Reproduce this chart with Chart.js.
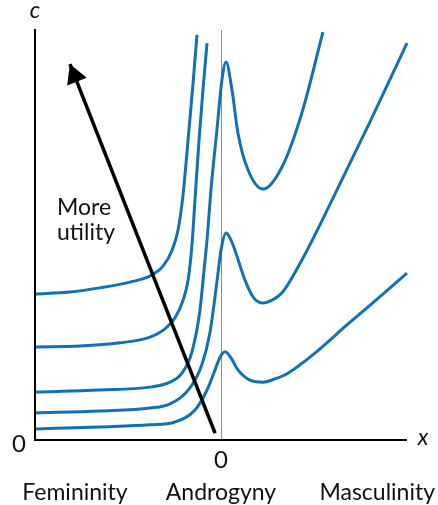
<!DOCTYPE html>
<html>
<head>
<meta charset="utf-8">
<script src="https://cdn.jsdelivr.net/npm/chart.js@4.4.1/dist/chart.umd.min.js"></script>
<style>
  html, body { margin:0; padding:0; background:#fff; }
  #wrap { width:438px; height:505px; position:relative; }
</style>
</head>
<body>
<div id="wrap"><canvas id="chart"></canvas></div>
<script>
// indifference curves, [x, c] (x: -10..10, c: 0..10)
const curveA = [[-10,3.56],[-8.12,3.61],[-6.51,3.71],[-4.89,3.85],[-3.82,4.0],[-3.12,4.24],[-2.63,4.63],
                [-2.31,5.12],[-2.04,5.98],[-1.77,7.32],[-1.51,8.66],[-1.29,9.88]];
const curveB = [[-10,2.27],[-7.58,2.29],[-5.43,2.37],[-3.82,2.51],[-3.01,2.71],[-2.47,2.98],[-2.04,3.41],
                [-1.77,3.9],[-1.56,4.76],[-1.4,5.85],[-1.18,7.32],[-0.97,8.54],[-0.75,9.68]];
const curveC = [[-10,1.17],[-6.51,1.22],[-3.82,1.29],[-2.74,1.41],[-2.1,1.63],[-1.56,2.15],[-1.13,3.17],
                [-0.91,4.15],[-0.75,4.88],[-0.54,6.1],[-0.22,7.56],[0.05,8.78],[0.27,9.22],[0.59,8.54],
                [0.91,7.49],[1.45,6.59],[2.26,6.12],[3.28,6.66],[4.35,7.98],[5.48,9.95]];
const curveD = [[-10,0.66],[-6.51,0.71],[-3.82,0.78],[-2.74,0.88],[-1.67,1.27],[-1.02,1.85],[-0.59,2.63],
                [-0.22,3.85],[0,4.63],[0.27,5.05],[0.48,4.93],[0.75,4.63],[1.29,3.9],[1.77,3.46],[2.26,3.34],
                [2.74,3.41],[3.28,3.59],[4.35,4.39],[5.97,5.85],[8.01,7.76],[10,9.68]];
const curveE = [[-10,0.27],[-6.51,0.32],[-3.82,0.37],[-2.47,0.44],[-1.4,0.73],[-0.75,1.22],[-0.32,1.71],
                [-0.05,2.02],[0.22,2.15],[0.54,2.0],[0.91,1.71],[1.56,1.46],[2.26,1.41],[2.9,1.49],[3.6,1.63],
                [5.05,2.12],[6.83,2.83],[8.66,3.54],[10,4.07]];
const arrowPts = [[-0.32,0.17],[-8.12,9.17]];

const catLabels = ['Femininity','Androgyny','Masculinity'];
const catAt     = [-7.85, 0, 8.4];
const blue = '#1072b4';
const font = 'Lato, "Open Sans", sans-serif';

const toXY = arr => arr.map(([x,y]) => ({x, y}));
const curveSet = d => ({
  data: toXY(d), borderColor: blue, borderWidth: 3, pointRadius: 0,
  cubicInterpolationMode: 'monotone', fill: false, order: 2, clip: false
});

const decor = {
  id: 'decor',
  beforeDatasetsDraw(chart) {
    const {ctx, chartArea:a, scales:{x}} = chart;
    const x0 = Math.round(x.getPixelForValue(0)) + 0.5;
    ctx.save();
    ctx.strokeStyle = '#8c8c8c'; ctx.lineWidth = 1;
    ctx.beginPath(); ctx.moveTo(x0, a.top); ctx.lineTo(x0, a.bottom); ctx.stroke();
    ctx.restore();
  },
  afterDraw(chart) {
    const {ctx, chartArea:a, scales:{x,y}} = chart;
    ctx.save();
    // axes
    ctx.strokeStyle = '#000'; ctx.lineWidth = 2;
    ctx.beginPath();
    ctx.moveTo(a.left, a.top - 1); ctx.lineTo(a.left, a.bottom);
    ctx.lineTo(a.right, a.bottom);
    ctx.stroke();

    // arrow head
    const meta = chart.getDatasetMeta(5).data;
    const p0 = meta[0], p1 = meta[1];
    const ang = Math.atan2(p1.y - p0.y, p1.x - p0.x);
    const L = 19, W = 10.5;
    const bx = p1.x - L*Math.cos(ang), by = p1.y - L*Math.sin(ang);
    ctx.fillStyle = '#000';
    ctx.beginPath();
    ctx.moveTo(p1.x, p1.y);
    ctx.lineTo(bx + W*Math.sin(ang), by - W*Math.cos(ang));
    ctx.lineTo(bx - W*Math.sin(ang), by + W*Math.cos(ang));
    ctx.closePath(); ctx.fill();

    // texts
    ctx.fillStyle = '#111';
    ctx.textBaseline = 'middle'; ctx.textAlign = 'center';
    ctx.font = 'italic 23px ' + font;
    ctx.fillText('c', a.left, 11);
    ctx.fillText('x', a.right + 16, a.bottom - 2);
    ctx.font = '24px ' + font;
    ctx.fillText('0', a.left - 16, a.bottom + 4);
    ctx.fillText('0', x.getPixelForValue(0), a.bottom + 20);
    ctx.textBaseline = 'alphabetic';
    ctx.font = '23px ' + font;
    catLabels.forEach((t, i) => ctx.fillText(t, x.getPixelForValue(catAt[i]), 500));
    ctx.textAlign = 'left';
    ctx.fillText('More', 57, 215);
    ctx.fillText('utility', 57, 240);
    ctx.restore();
  }
};

new Chart(document.getElementById('chart'), {
  type: 'line',
  data: {
    datasets: [
      curveSet(curveA), curveSet(curveB), curveSet(curveC), curveSet(curveD), curveSet(curveE),
      { data: toXY(arrowPts), borderColor: '#000', borderWidth: 3.5, pointRadius: 0,
        tension: 0, order: 0, clip: false }
    ]
  },
  options: {
    responsive: true, maintainAspectRatio: false, animation: false,
    layout: { padding: { left: 35, right: 31, top: 30, bottom: 65 } },
    plugins: { legend: { display: false }, tooltip: { enabled: false } },
    scales: {
      x: { type: 'linear', min: -10, max: 10, display: false },
      y: { type: 'linear', min: 0, max: 10, display: false }
    }
  },
  plugins: [decor]
});
</script>
</body>
</html>
